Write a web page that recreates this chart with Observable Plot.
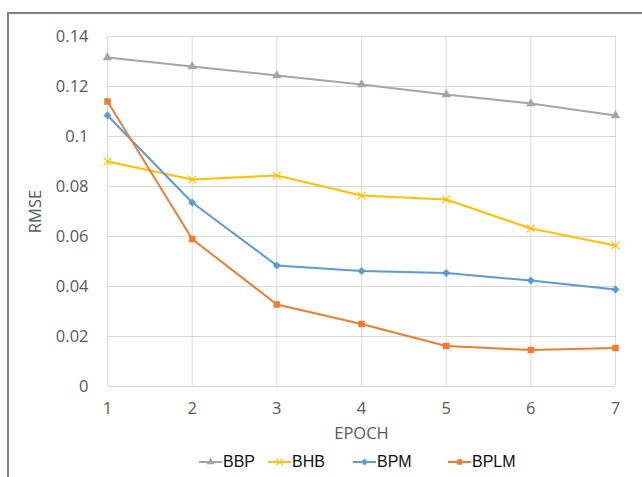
<!DOCTYPE html>
<html>
<head>
<meta charset="utf-8">
<script src="https://cdn.jsdelivr.net/npm/d3@7"></script>
<script src="https://cdn.jsdelivr.net/npm/@observablehq/plot@0.6"></script>
<style>
  html, body { margin: 0; padding: 0; background: #fff; width: 642px; height: 477px; overflow: hidden; }
  #wrap { position: relative; width: 642px; height: 477px; }
  #frame { position: absolute; left: 7px; top: 12px; width: 700px; height: 600px;
           border-top: 2px solid #808080; border-left: 2px solid #808080; pointer-events: none; }
  #chart { position: absolute; left: 0; top: 0; }
  #legend { position: absolute; top: 452px; left: 0; width: 642px; height: 20px;
            font-family: "Liberation Sans", Arial, sans-serif; font-size: 16px; color: #111; }
  .item { position: absolute; top: 0; display: flex; align-items: center; height: 20px; }
  .item svg { margin-right: 1px; }
</style>
</head>
<body>
<div id="wrap">
  <div id="chart"></div>
  <div id="frame"></div>
  <div id="legend"></div>
</div>
<script>
const epochs = [1, 2, 3, 4, 5, 6, 7];
const yTicks = [0, 0.02, 0.04, 0.06, 0.08, 0.1, 0.12, 0.14];
const seriesNames = ["BBP", "BHB", "BPM", "BPLM"];
const bbp  = [0.1316, 0.1280, 0.1244, 0.1208, 0.1168, 0.1132, 0.1084];
const bhb  = [0.0900, 0.0828, 0.0844, 0.0764, 0.0748, 0.0632, 0.0564];
const bpm  = [0.1084, 0.0736, 0.0484, 0.0462, 0.0454, 0.0424, 0.0388];
const bplm = [0.1140, 0.0590, 0.0328, 0.0250, 0.0162, 0.0146, 0.0154];

const colors = { BBP: "#A5A5A5", BHB: "#FFC000", BPM: "#5B9BD5", BPLM: "#ED7D31" };
const symbols = { BBP: "triangle", BHB: "times", BPM: "diamond2", BPLM: "square" };
const radii = { BBP: 3.2, BHB: 3.6, BPM: 3.4, BPLM: 3.4 };
const valuesBy = { BBP: bbp, BHB: bhb, BPM: bpm, BPLM: bplm };

const table = seriesNames.flatMap(s => epochs.map((e, i) => ({ series: s, epoch: e, value: valuesBy[s][i] })));

const fmt = d => String(+d.toFixed(2));

const marks = [
  Plot.gridX({ ticks: epochs, stroke: "#d9d9d9", strokeOpacity: 1 }),
  Plot.gridY({ ticks: yTicks, stroke: "#d9d9d9", strokeOpacity: 1 }),
  Plot.axisX({ ticks: epochs, tickSize: 0, tickPadding: 16, tickFormat: d => String(d), label: "EPOCH",
               labelAnchor: "center", labelArrow: "none", labelOffset: 52, fill: "#595959" }),
  Plot.axisY({ ticks: yTicks, tickSize: 0, tickPadding: 19, tickFormat: fmt, label: "RMSE",
               labelAnchor: "center", labelArrow: "none", labelOffset: 78, fill: "#595959" })
];

for (const s of seriesNames) {
  const data = table.filter(d => d.series === s);
  marks.push(Plot.line(data, { x: "epoch", y: "value", stroke: colors[s], strokeWidth: 2 }));
  const isStroke = s === "BHB";
  marks.push(Plot.dot(data, {
    x: "epoch", y: "value", symbol: symbols[s], r: radii[s],
    fill: isStroke ? "none" : colors[s],
    stroke: colors[s], strokeWidth: isStroke ? 1.3 : 0.5
  }));
}

const chart = Plot.plot({
  width: 642, height: 445,
  marginLeft: 107, marginRight: 27, marginTop: 36, marginBottom: 59,
  x: { domain: [1, 7] },
  y: { domain: [0, 0.14] },
  style: { fontFamily: "'Open Sans', sans-serif", fontSize: "16.5px", color: "#595959", background: "transparent" },
  marks
});
document.getElementById("chart").appendChild(chart);

// Legend
const legendLeft = { BBP: 199, BHB: 268, BPM: 353, BPLM: 448 };
const legend = document.getElementById("legend");
for (const s of seriesNames) {
  const item = document.createElement("div");
  item.className = "item";
  item.style.left = legendLeft[s] + "px";
  const svg = d3.create("svg").attr("width", 23).attr("height", 12);
  svg.append("line").attr("x1", 0).attr("x2", 23).attr("y1", 6).attr("y2", 6)
     .attr("stroke", colors[s]).attr("stroke-width", 2);
  const symMap = { triangle: d3.symbolTriangle, times: d3.symbolTimes, diamond2: d3.symbolDiamond2, square: d3.symbolSquare };
  const size = Math.PI * radii[s] * radii[s] * 0.8;
  const p = svg.append("path").attr("transform", "translate(11.5,6)")
     .attr("d", d3.symbol(symMap[symbols[s]], size)());
  if (s === "BHB") p.attr("fill", "none").attr("stroke", colors[s]).attr("stroke-width", 1.2);
  else p.attr("fill", colors[s]);
  item.appendChild(svg.node());
  const t = document.createElement("span");
  t.textContent = s;
  item.appendChild(t);
  legend.appendChild(item);
}
</script>
</body>
</html>
